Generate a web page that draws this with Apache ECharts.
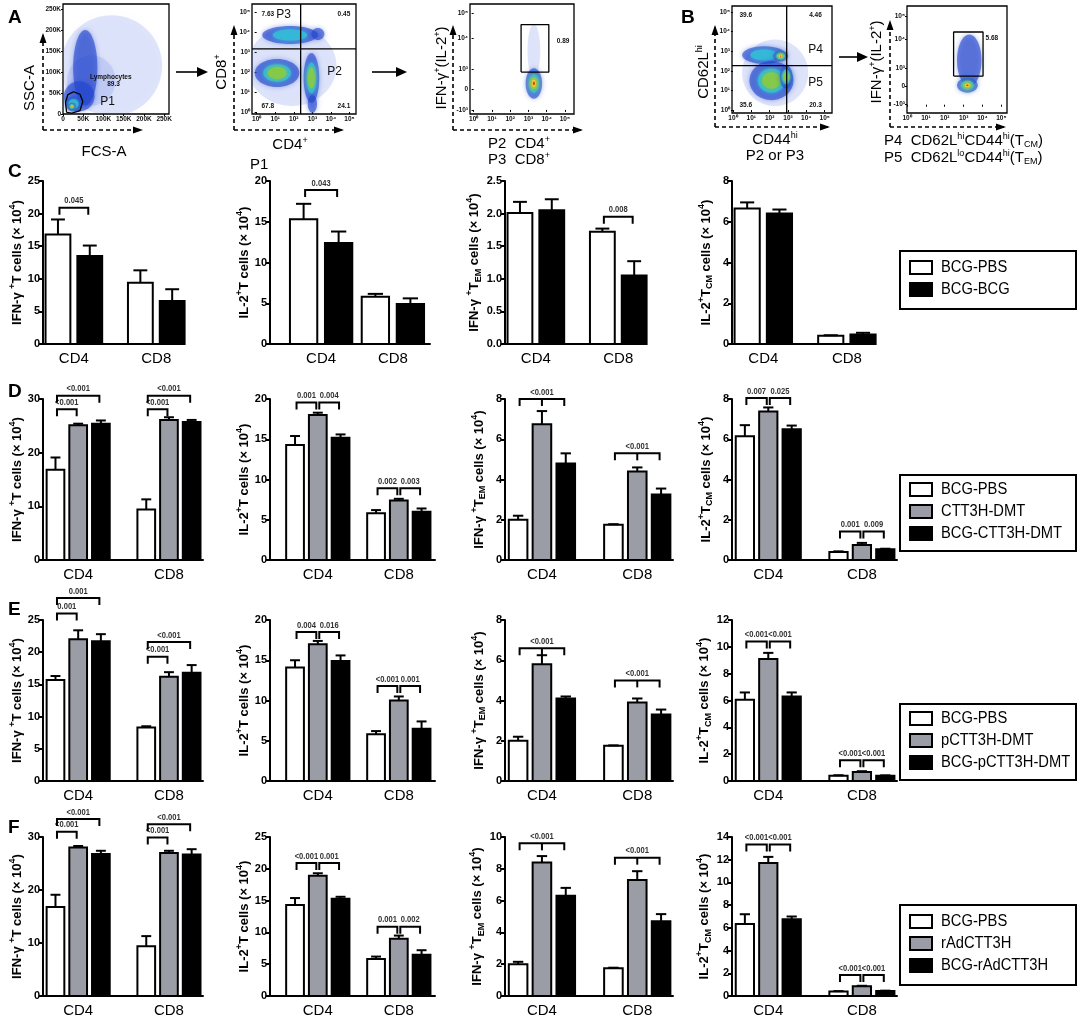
<!DOCTYPE html>
<html>
<head>
<meta charset="utf-8">
<title>T cell responses</title>
<script src="https://cdn.jsdelivr.net/npm/echarts@6/dist/echarts.min.js"></script>
<style>
*{margin:0;padding:0;}
body{background:#fff;}
#main{width:1084px;height:1018px;}
</style>
</head>
<body>
<div id="main"></div>
<script>
// ---------------- data ----------------
var cellTypes = ['CD4', 'CD8'];
var groupsC = ['BCG-PBS', 'BCG-BCG'];
var groupsD = ['BCG-PBS', 'CTT3H-DMT', 'BCG-CTT3H-DMT'];
var groupsE = ['BCG-PBS', 'pCTT3H-DMT', 'BCG-pCTT3H-DMT'];
var groupsF = ['BCG-PBS', 'rAdCTT3H', 'BCG-rAdCTT3H'];

// y axis max / step, one per column
var yMaxC = [25, 20, 2.5, 8],  yStepC = [5, 5, 0.5, 2];
var yMaxD = [30, 20, 8, 8],    yStepD = [10, 5, 2, 2];
var yMaxE = [25, 20, 8, 12],   yStepE = [5, 5, 2, 2];
var yMaxF = [30, 25, 10, 14],  yStepF = [10, 5, 2, 2];

// means and upper error, [group][CD4, CD8]
var c1Mean = [[16.8, 9.4], [13.5, 6.6]],   c1Err = [[2.3, 1.9], [1.6, 1.8]];
var c2Mean = [[15.3, 5.8], [12.4, 4.9]],   c2Err = [[1.9, 0.35], [1.4, 0.7]];
var c3Mean = [[2.01, 1.72], [2.05, 1.05]], c3Err = [[0.17, 0.05], [0.17, 0.22]];
var c4Mean = [[6.65, 0.4], [6.4, 0.47]],   c4Err = [[0.3, 0.03], [0.2, 0.08]];

var d1Mean = [[16.8, 9.4], [25.1, 26.1], [25.4, 25.7]], d1Err = [[2.3, 1.9], [0.3, 0.5], [0.6, 0.4]];
var d2Mean = [[14.3, 5.8], [18.0, 7.4], [15.2, 6.0]],   d2Err = [[1.1, 0.4], [0.3, 0.2], [0.4, 0.4]];
var d3Mean = [[2.0, 1.75], [6.75, 4.4], [4.8, 3.25]],   d3Err = [[0.2, 0.03], [0.65, 0.2], [0.5, 0.3]];
var d4Mean = [[6.15, 0.4], [7.38, 0.75], [6.5, 0.53]],  d4Err = [[0.55, 0.03], [0.2, 0.1], [0.18, 0.03]];

var e1Mean = [[15.7, 8.3], [22.0, 16.2], [21.7, 16.8]], e1Err = [[0.6, 0.2], [1.4, 0.7], [1.1, 1.2]];
var e2Mean = [[14.1, 5.8], [17.0, 10.0], [14.9, 6.5]],  e2Err = [[0.9, 0.4], [0.4, 0.5], [0.7, 0.9]];
var e3Mean = [[2.0, 1.75], [5.8, 3.9], [4.1, 3.3]],     e3Err = [[0.2, 0.02], [0.45, 0.2], [0.1, 0.25]];
var e4Mean = [[6.05, 0.4], [9.1, 0.68], [6.3, 0.4]],    e4Err = [[0.55, 0.03], [0.45, 0.05], [0.3, 0.02]];

var f1Mean = [[16.8, 9.4], [28.0, 27.0], [26.8, 26.7]], f1Err = [[2.3, 1.9], [0.3, 0.4], [0.6, 1.0]];
var f2Mean = [[14.3, 5.8], [18.9, 9.0], [15.3, 6.5]],   f2Err = [[1.1, 0.4], [0.4, 0.5], [0.3, 0.7]];
var f3Mean = [[2.0, 1.75], [8.4, 7.3], [6.3, 4.7]],     f3Err = [[0.15, 0.03], [0.4, 0.55], [0.5, 0.45]];
var f4Mean = [[6.35, 0.4], [11.7, 0.85], [6.75, 0.45]], f4Err = [[0.85, 0.03], [0.55, 0.05], [0.25, 0.02]];

// significance brackets: [cell, fromGroup, toGroup, y, p-value label, centre tick]
var c1Sig = [[0, 0, 1, 20.9, '0.045']];
var c2Sig = [[0, 0, 1, 18.9, '0.043']];
var c3Sig = [[1, 0, 1, 1.95, '0.008']];
var c4Sig = [];
var d1Sig = [[0, 0, 1, 28.1, '<0.001'], [0, 0, 2, 30.6, '<0.001'], [1, 0, 1, 28.1, '<0.001'], [1, 0, 2, 30.6, '<0.001']];
var d2Sig = [[0, 0, 1, 19.55, '0.001'], [0, 1, 2, 19.55, '0.004'], [1, 0, 1, 8.9, '0.002'], [1, 1, 2, 8.9, '0.003']];
var d3Sig = [[0, 0, 2, 8.0, '<0.001', 1], [1, 0, 2, 5.3, '<0.001', 1]];
var d4Sig = [[0, 0, 1, 8.05, '0.007'], [0, 1, 2, 8.05, '0.025'], [1, 0, 1, 1.42, '0.001'], [1, 1, 2, 1.42, '0.009']];
var e1Sig = [[0, 0, 1, 26.0, '0.001'], [0, 0, 2, 28.4, '0.001'], [1, 0, 1, 19.3, '<0.001'], [1, 0, 2, 21.6, '<0.001']];
var e2Sig = [[0, 0, 1, 18.5, '0.004'], [0, 1, 2, 18.5, '0.016'], [1, 0, 1, 11.8, '<0.001'], [1, 1, 2, 11.8, '0.001']];
var e3Sig = [[0, 0, 2, 6.6, '<0.001', 1], [1, 0, 2, 5.0, '<0.001', 1]];
var e4Sig = [[0, 0, 1, 10.4, '<0.001'], [0, 1, 2, 10.4, '<0.001'], [1, 0, 1, 1.55, '<0.001'], [1, 1, 2, 1.55, '<0.001']];
var f1Sig = [[0, 0, 1, 31.0, '<0.001'], [0, 0, 2, 33.4, '<0.001'], [1, 0, 1, 29.9, '<0.001'], [1, 0, 2, 32.4, '<0.001']];
var f2Sig = [[0, 0, 1, 20.9, '<0.001'], [0, 1, 2, 20.9, '0.001'], [1, 0, 1, 10.9, '0.001'], [1, 1, 2, 10.9, '0.002']];
var f3Sig = [[0, 0, 2, 9.6, '<0.001', 1], [1, 0, 2, 8.7, '<0.001', 1]];
var f4Sig = [[0, 0, 1, 13.35, '<0.001'], [0, 1, 2, 13.35, '<0.001'], [1, 0, 1, 1.85, '<0.001'], [1, 1, 2, 1.85, '<0.001']];

// flow cytometry plots: tick positions / labels
var kTicks = [0, 50, 100, 150, 200, 250];
var kLabels = ['0', '50K', '100K', '150K', '200K', '250K'];
var logTicks = [0, 1, 2, 3, 4, 5];
var logLabels = ['10⁰', '10¹', '10²', '10³', '10⁴', '10⁵'];
var biexTicksA = [0, 1, 2, 3.5, 4.75];
var biexTicksB = [0, 1, 2, 3.55, 4.8];
var biexLabels = ['-10³', '0', '10³', '10⁴', '10⁵'];

// populations [x, y, spreadX, spreadY, density level 0..5]
var popA1 = [[120, 115, 125, 120, 0], [70, 80, 60, 60, 0], [55, 110, 30, 90, 1], [40, 42, 38, 36, 1], [26, 24, 20, 18, 2], [22, 18, 10, 9, 5]];
var popA2 = [[1.9, 2.3, 2.4, 2.0, 0], [1.8, 3.85, 1.5, 0.45, 2], [1.1, 1.95, 1.2, 0.7, 3], [2.95, 1.7, 0.42, 1.25, 3], [3.0, 0.4, 0.25, 0.45, 1], [3.3, 3.9, 0.35, 0.3, 1]];
var popA3 = [[3.3, 2.9, 0.35, 1.3, 0], [3.3, 1.3, 0.45, 0.75, 5]];
var popB1 = [[2.3, 1.9, 1.8, 1.7, 0], [1.7, 2.8, 1.2, 0.45, 2], [2.1, 1.5, 1.2, 1.0, 3], [2.9, 1.7, 0.35, 0.6, 3], [2.6, 2.75, 0.4, 0.28, 5]];
var popB2 = [[3.3, 2.4, 0.65, 1.4, 1], [3.2, 1.05, 0.55, 0.4, 5]];

// gates and quadrants
var gateA1 = [[9, 4], [6, 28], [12, 46], [26, 53], [42, 47], [49, 30], [42, 8], [22, 2], [9, 4]];
var gateA3 = [[2.6, 1.86], [2.6, 4.19], [4.12, 4.19], [4.12, 1.86], [2.6, 1.86]];
var gateB2 = [[2.47, 1.55], [2.47, 3.94], [4.03, 3.94], [4.03, 1.55], [2.47, 1.55]];
var quadA2 = [2.37, 3.16];
var quadB1 = [2.93, 2.26];

// gate / quadrant annotations [x, y, text]
var textA1 = [[118, 88, 'Lymphocytes'], [125, 72, '89.3'], [110, 30, 'P1']];
var textA2 = [[0.6, 4.9, '7.63'], [1.45, 4.85, 'P3'], [4.7, 4.9, '0.45'], [0.6, 0.3, '67.8'], [4.7, 0.3, '24.1'], [4.2, 2.0, 'P2']];
var textA3 = [[4.9, 3.35, '0.89']];
var textB1 = [[0.7, 4.85, '39.6'], [4.5, 4.85, '4.46'], [0.7, 0.25, '35.6'], [4.5, 0.25, '20.3'], [4.5, 3.05, 'P4'], [4.5, 1.4, 'P5']];
var textB2 = [[4.5, 3.6, '5.68']];

// ---------------- layout / style ----------------
var FONT = '"Liberation Sans", Arial, sans-serif';
var rowTop = [181, 399, 620, 837];
var rowZero = [344, 560, 781, 998];
var colLeft = [43, 270, 505, 732];
var colWidthC = [140, 160, 140, 142];
var colWidth = [160, 165, 168, 165];
var legendTop = [250, 474, 703, 904];
var legendH = [58, 76, 76, 80];

var yNames = [
  '{t|IFN-γ }{sp|+}{t|T cells (× 10}{sp|4}{t|)}',
  '{t|IL-2}{sp|+}{t|T cells (× 10}{sp|4}{t|)}',
  '{t|IFN-γ }{sp|+}{t|T}{sb|EM}{t| cells (× 10}{sp|4}{t|)}',
  '{t|IL-2}{sp|+}{t|T}{sb|CM}{t| cells (× 10}{sp|4}{t|)}'
];
var nameRich = {
  t: {fontSize: 13, fontWeight: 'bold', fontFamily: FONT, color: '#000'},
  sp: {fontSize: 9, fontWeight: 'bold', fontFamily: FONT, color: '#000', padding: [0, 0, 9, 0]},
  sb: {fontSize: 9, fontWeight: 'bold', fontFamily: FONT, color: '#000', padding: [8, 0, 0, 0]}
};

var grids = [], xAxes = [], yAxes = [], series = [], graphics = [];

function pick(ticks, labels, v) {
  for (var i = 0; i < ticks.length; i++) if (Math.abs(ticks[i] - v) < 1e-6) return labels[i];
  return '';
}

function barPanel(row, col, groups, means, errs, sigs, yMax, yStep) {
  var n = groups.length;
  var lay;
  if (n === 3) lay = col === 1 ? {c: [2.1, 5.66], max: 7.25} : {c: [1.55, 5.55], max: 7.05};
  else lay = col === 1 ? {c: [1.46, 3.51], max: 4.57} : {c: [0.97, 3.56], max: 4.4};
  var bw = 0.78;
  var fills = n === 3 ? ['#ffffff', '#9a9da5', '#000000'] : ['#ffffff', '#000000'];
  var gi = grids.length;
  grids.push({left: colLeft[col], top: rowTop[row], width: row === 0 ? colWidthC[col] : colWidth[col],
    height: rowZero[row] - rowTop[row]});
  xAxes.push({gridIndex: gi, type: 'value', min: 0, max: lay.max,
    axisLine: {show: true, onZero: false, lineStyle: {color: '#000', width: 2}},
    axisTick: {show: false}, splitLine: {show: false},
    axisLabel: {customValues: lay.c, margin: 7, color: '#000', fontSize: 15, fontFamily: FONT,
      formatter: function (v) { return Math.abs(v - lay.c[0]) < 0.01 ? cellTypes[0] : cellTypes[1]; }}});
  yAxes.push({gridIndex: gi, type: 'value', min: 0, max: yMax, interval: yStep,
    axisLine: {show: true, lineStyle: {color: '#000', width: 2}},
    axisTick: {show: true, length: 4, lineStyle: {color: '#000', width: 2}},
    splitLine: {show: false},
    axisLabel: {margin: 3, color: '#000', fontSize: 11, fontWeight: 'bold', fontFamily: FONT,
      formatter: function (v) { return yStep < 1 ? v.toFixed(1) : String(v); }},
    name: yNames[col], nameLocation: 'middle', nameRotate: 90, nameGap: 17,
    nameTextStyle: {rich: nameRich}});

  var bars = [];
  for (var g = 0; g < n; g++) for (var c = 0; c < 2; c++) bars.push([c, g, means[g][c], errs[g][c]]);
  series.push({type: 'custom', xAxisIndex: gi, yAxisIndex: gi, clip: false, silent: true,
    dimensions: ['cell', 'group', 'mean', 'err'], encode: {x: 0, y: 2},
    data: bars,
    renderItem: function (params, api) {
      var c = api.value(0), g = api.value(1), m = api.value(2), e = api.value(3);
      var xc = lay.c[c] + (g - (n - 1) / 2);
      var p0 = api.coord([xc - bw / 2, 0]);
      var p1 = api.coord([xc + bw / 2, m]);
      var pm = api.coord([xc, m]);
      var pt = api.coord([xc, m + e]);
      var cap = api.size([bw * 0.28, 0])[0];
      return {type: 'group', children: [
        {type: 'rect', shape: {x: p0[0], y: p1[1], width: p1[0] - p0[0], height: p0[1] - p1[1]},
          style: {fill: fills[g], stroke: '#000', lineWidth: 2}},
        {type: 'line', shape: {x1: pm[0], y1: pm[1], x2: pt[0], y2: pt[1]}, style: {stroke: '#000', lineWidth: 2}},
        {type: 'line', shape: {x1: pt[0] - cap, y1: pt[1], x2: pt[0] + cap, y2: pt[1]}, style: {stroke: '#000', lineWidth: 2}}
      ]};
    }});

  if (sigs.length) {
    series.push({type: 'custom', xAxisIndex: gi, yAxisIndex: gi, clip: false, silent: true,
      encode: {x: 0, y: 1},
      data: sigs.map(function (s) { return [lay.c[s[0]], s[3]]; }),
      renderItem: function (params, api) {
        var s = sigs[params.dataIndex];
        var xa = lay.c[s[0]] + (s[1] - (n - 1) / 2), xb = lay.c[s[0]] + (s[2] - (n - 1) / 2);
        var pa = api.coord([xa, s[3]]), pb = api.coord([xb, s[3]]);
        var tk = 7, ins = 1.5;
        var kids = [
          {type: 'polyline', shape: {points: [[pa[0] + ins, pa[1] + tk], [pa[0] + ins, pa[1]], [pb[0] - ins, pb[1]], [pb[0] - ins, pb[1] + tk]]},
            style: {stroke: '#000', lineWidth: 2, fill: null}},
          {type: 'text', x: (pa[0] + pb[0]) / 2, y: pa[1] - 2, scaleX: 0.8,
            style: {text: s[4], fill: '#333', font: 'bold 9.5px ' + FONT, align: 'center', verticalAlign: 'bottom'}}
        ];
        if (s[5]) {
          var pm = api.coord([lay.c[s[0]], s[3]]);
          kids.push({type: 'line', shape: {x1: pm[0], y1: pm[1], x2: pm[0], y2: pm[1] + tk}, style: {stroke: '#000', lineWidth: 2}});
        }
        return {type: 'group', children: kids};
      }});
  }
}

function legendBox(row, groups) {
  var fills = groups.length === 3 ? ['#ffffff', '#9a9da5', '#000000'] : ['#ffffff', '#000000'];
  var top = legendTop[row], h = legendH[row];
  graphics.push({type: 'rect', left: 899, top: top, shape: {width: 176, height: h},
    style: {fill: '#fff', stroke: '#000', lineWidth: 2}});
  var step = 22, y0 = top + h / 2 - (groups.length - 1) * step / 2;
  groups.forEach(function (name, i) {
    graphics.push({type: 'rect', x: 910, y: y0 + i * step - 7, shape: {width: 22, height: 13},
      style: {fill: fills[i], stroke: '#000', lineWidth: 2}});
    graphics.push({type: 'text', x: 941, y: y0 + i * step, scaleX: 0.92,
      style: {text: name, fill: '#000', font: '16px ' + FONT, verticalAlign: 'middle'}});
  });
}

var levelColors = ['rgba(70,100,225,0.16)', 'rgba(35,70,205,0.62)', '#35b8d8', '#84c94a', '#f1e23c', '#e5321d'];
var levelSizes = [1, 1, 0.62, 0.42, 0.24, 0.12];

function flowPanel(box, xr, yr, xTicks, xLabels, yTicks, yLabels, pops, gate, quad, texts) {
  var gi = grids.length;
  grids.push({left: box[0], top: box[1], width: box[2], height: box[3], show: true,
    borderColor: '#000', borderWidth: 1.3, backgroundColor: '#fff'});
  var lab = function (ticks, labels) {
    return {customValues: ticks, margin: 2, color: '#111', fontSize: 6.5, fontWeight: 'bold', fontFamily: FONT,
      formatter: function (v) { return pick(ticks, labels, v); }};
  };
  xAxes.push({gridIndex: gi, type: 'value', min: xr[0], max: xr[1], axisLine: {show: false},
    axisTick: {show: true, customValues: xTicks, length: 2, lineStyle: {color: '#000'}},
    splitLine: {show: false}, axisLabel: lab(xTicks, xLabels)});
  yAxes.push({gridIndex: gi, type: 'value', min: yr[0], max: yr[1], axisLine: {show: false},
    axisTick: {show: true, customValues: yTicks, length: 2, lineStyle: {color: '#000'}},
    splitLine: {show: false}, axisLabel: lab(yTicks, yLabels)});

  series.push({type: 'custom', xAxisIndex: gi, yAxisIndex: gi, silent: true, encode: {x: 0, y: 1},
    data: pops,
    renderItem: function (params, api) {
      var p = api.coord([api.value(0), api.value(1)]);
      var rx = api.size([api.value(2), 0])[0], ry = api.size([0, api.value(3)])[1];
      var lvl = api.value(4);
      var kids = [];
      var first = lvl === 0 ? 0 : 1;
      for (var k = first; k <= Math.max(lvl, first); k++) {
        kids.push({type: 'ellipse', shape: {cx: p[0], cy: p[1], rx: rx * levelSizes[k], ry: ry * levelSizes[k]},
          style: {fill: levelColors[k], shadowBlur: k === 0 ? 10 : 5, shadowColor: levelColors[k]}});
      }
      return {type: 'group', children: kids,
        clipPath: {type: 'rect', shape: {x: params.coordSys.x, y: params.coordSys.y,
          width: params.coordSys.width, height: params.coordSys.height}}};
    }});

  if (gate) {
    series.push({type: 'line', xAxisIndex: gi, yAxisIndex: gi, data: gate, symbol: 'none', silent: true,
      lineStyle: {color: '#000', width: 1.3}});
  }
  if (quad) {
    series.push({type: 'line', xAxisIndex: gi, yAxisIndex: gi, symbol: 'none', silent: true,
      data: [[quad[0], yr[0]], [quad[0], yr[1]]], lineStyle: {color: '#000', width: 1.3}});
    series.push({type: 'line', xAxisIndex: gi, yAxisIndex: gi, symbol: 'none', silent: true,
      data: [[xr[0], quad[1]], [xr[1], quad[1]]], lineStyle: {color: '#000', width: 1.3}});
  }
  series.push({type: 'custom', xAxisIndex: gi, yAxisIndex: gi, silent: true, clip: false, encode: {x: 0, y: 1},
    data: texts.map(function (t) { return [t[0], t[1]]; }),
    renderItem: function (params, api) {
      var t = texts[params.dataIndex];
      var p = api.coord([t[0], t[1]]);
      var big = /^P\d$/.test(t[2]);
      return {type: 'text', x: p[0], y: p[1],
        style: {text: t[2], fill: '#111', font: (big ? '12px ' : 'bold 6.5px ') + FONT,
          align: 'center', verticalAlign: 'middle'}};
    }});
}

// ---------------- flow panels ----------------
flowPanel([63, 4, 106, 110], [0, 262], [0, 262], kTicks, kLabels, kTicks, kLabels, popA1, gateA1, null, textA1);
flowPanel([252, 4, 104, 110], [-0.25, 5.35], [-0.1, 5.4], logTicks, logLabels, logTicks, logLabels, popA2, null, quadA2, textA2);
flowPanel([470, 4, 104, 110], [-0.2, 5.5], [-0.2, 5.2], logTicks, logLabels, biexTicksA, biexLabels, popA3, gateA3, null, textA3);
flowPanel([732, 6, 100, 107], [-0.05, 5.4], [-0.15, 5.3], logTicks, logLabels, logTicks, logLabels, popB1, null, quadB1, textB1);
flowPanel([907, 6, 100, 107], [0, 5.3], [-0.45, 5.35], logTicks, logLabels, biexTicksB, biexLabels, popB2, gateB2, null, textB2);

// ---------------- bar panels ----------------
barPanel(0, 0, groupsC, c1Mean, c1Err, c1Sig, yMaxC[0], yStepC[0]);
barPanel(0, 1, groupsC, c2Mean, c2Err, c2Sig, yMaxC[1], yStepC[1]);
barPanel(0, 2, groupsC, c3Mean, c3Err, c3Sig, yMaxC[2], yStepC[2]);
barPanel(0, 3, groupsC, c4Mean, c4Err, c4Sig, yMaxC[3], yStepC[3]);
barPanel(1, 0, groupsD, d1Mean, d1Err, d1Sig, yMaxD[0], yStepD[0]);
barPanel(1, 1, groupsD, d2Mean, d2Err, d2Sig, yMaxD[1], yStepD[1]);
barPanel(1, 2, groupsD, d3Mean, d3Err, d3Sig, yMaxD[2], yStepD[2]);
barPanel(1, 3, groupsD, d4Mean, d4Err, d4Sig, yMaxD[3], yStepD[3]);
barPanel(2, 0, groupsE, e1Mean, e1Err, e1Sig, yMaxE[0], yStepE[0]);
barPanel(2, 1, groupsE, e2Mean, e2Err, e2Sig, yMaxE[1], yStepE[1]);
barPanel(2, 2, groupsE, e3Mean, e3Err, e3Sig, yMaxE[2], yStepE[2]);
barPanel(2, 3, groupsE, e4Mean, e4Err, e4Sig, yMaxE[3], yStepE[3]);
barPanel(3, 0, groupsF, f1Mean, f1Err, f1Sig, yMaxF[0], yStepF[0]);
barPanel(3, 1, groupsF, f2Mean, f2Err, f2Sig, yMaxF[1], yStepF[1]);
barPanel(3, 2, groupsF, f3Mean, f3Err, f3Sig, yMaxF[2], yStepF[2]);
barPanel(3, 3, groupsF, f4Mean, f4Err, f4Sig, yMaxF[3], yStepF[3]);

legendBox(0, groupsC);
legendBox(1, groupsD);
legendBox(2, groupsE);
legendBox(3, groupsF);

// ---------------- letters, flow titles, arrows ----------------
[['A', 8, 18], ['B', 681, 18], ['C', 8, 172], ['D', 8, 392], ['E', 8, 610], ['F', 8, 828]].forEach(function (l) {
  graphics.push({type: 'text', x: l[1], y: l[2], style: {text: l[0], fill: '#000', font: 'bold 19px ' + FONT, verticalAlign: 'middle'}});
});

var lblRich = {
  a: {fontSize: 15, fontFamily: FONT, color: '#000'},
  s: {fontSize: 9, fontFamily: FONT, color: '#000', padding: [0, 0, 9, 0]},
  b: {fontSize: 9, fontFamily: FONT, color: '#000', padding: [8, 0, 0, 0]}
};
function label(x, y, text, rot, align) {
  graphics.push({type: 'text', x: x, y: y, rotation: rot ? Math.PI / 2 : 0,
    style: {text: text, rich: lblRich, align: align || 'center', verticalAlign: 'middle'}});
}
function dashedArrow(x0, y0, len, vertical) {
  var pts = vertical ? [[x0, y0], [x0, y0 - len]] : [[x0, y0], [x0 + len, y0]];
  graphics.push({type: 'polyline', shape: {points: pts}, style: {stroke: '#000', lineWidth: 1.6, lineDash: [4, 3], fill: null}});
  var tip = pts[1];
  var head = vertical ? [[tip[0], tip[1] - 2], [tip[0] - 3.5, tip[1] + 8], [tip[0] + 3.5, tip[1] + 8]]
                      : [[tip[0] + 2, tip[1]], [tip[0] - 8, tip[1] - 3.5], [tip[0] - 8, tip[1] + 3.5]];
  graphics.push({type: 'polygon', shape: {points: head}, style: {fill: '#000'}});
}
function arrow(x0, x1, y) {
  graphics.push({type: 'line', shape: {x1: x0, y1: y, x2: x1 - 8, y2: y}, style: {stroke: '#000', lineWidth: 1.6}});
  graphics.push({type: 'polygon', shape: {points: [[x1, y], [x1 - 11, y - 5], [x1 - 11, y + 5]]}, style: {fill: '#000'}});
}

// A1
dashedArrow(43, 130, 95, true); dashedArrow(43, 130, 98, false);
label(30, 88, '{a|SSC-A}', true);
label(104, 152, '{a|FCS-A}');
arrow(176, 208, 72);
// A2
dashedArrow(234, 130, 103, true); dashedArrow(234, 130, 108, false);
label(222, 72, '{a|CD8}{s|+}', true);
label(290, 145, '{a|CD4}{s|+}');
label(250, 165, '{a|P1}', false, 'left');
arrow(372, 407, 72);
// A3
dashedArrow(453, 130, 103, true); dashedArrow(453, 130, 128, false);
label(442, 68, '{a|IFN-γ}{s|+}{a|(IL-2}{s|+}{a|)}', true);
label(488, 144, '{a|P2  CD4}{s|+}', false, 'left');
label(488, 160, '{a|P3  CD8}{s|+}', false, 'left');
// B1
dashedArrow(715, 127, 100, true); dashedArrow(715, 127, 113, false);
label(704, 72, '{a|CD62L}{s|hi}', true);
label(775, 140, '{a|CD44}{s|hi}');
label(775, 156, '{a|P2 or P3}');
arrow(839, 868, 57);
// B2
dashedArrow(890, 127, 105, true); dashedArrow(890, 127, 114, false);
label(877, 62, '{a|IFN-γ}{s|+}{a|(IL-2}{s|+}{a|)}', true);
label(884, 141, '{a|P4  CD62L}{s|hi}{a|CD44}{s|hi}{a|(T}{b|CM}{a|)}', false, 'left');
label(884, 158, '{a|P5  CD62L}{s|lo}{a|CD44}{s|hi}{a|(T}{b|EM}{a|)}', false, 'left');

var chart = echarts.init(document.getElementById('main'));
chart.setOption({
  animation: false,
  backgroundColor: '#fff',
  grid: grids,
  xAxis: xAxes,
  yAxis: yAxes,
  series: series,
  graphic: graphics
});
</script>
</body>
</html>
